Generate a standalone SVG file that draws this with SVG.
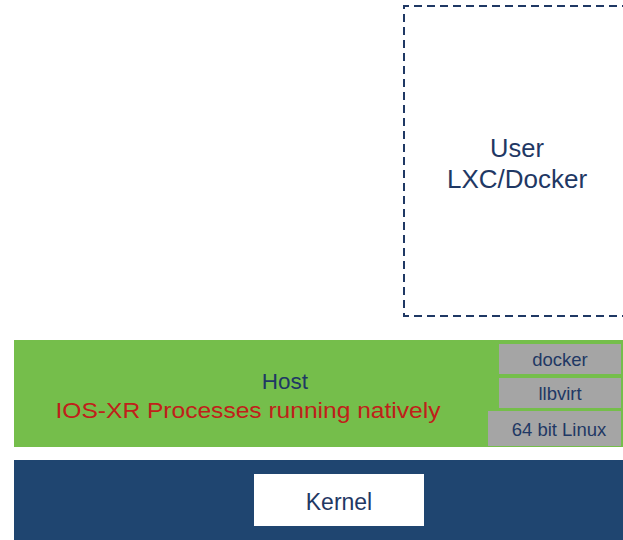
<svg xmlns="http://www.w3.org/2000/svg" width="623" height="540" viewBox="0 0 623 540">
<style>
.t{font-family:"Liberation Sans",Arial,sans-serif;text-anchor:middle}
.navy{fill:#1F3864}
.gray{fill:#A5A5A5}
.gl{font-size:18.5px;fill:#1F3864}
</style>
<rect width="623" height="540" fill="#FFFFFF"/>
<g id="user">
<path d="M630 6 H404 V316 H630" fill="none" stroke="#1F3864" stroke-width="2" stroke-dasharray="8,5"/>
<text class="t navy" x="517" y="157" font-size="25.5">User</text>
<text class="t navy" x="517" y="188" font-size="26">LXC/Docker</text>
</g>
<g id="host">
<rect x="14" y="340" width="609" height="107" fill="#75BE4B"/>
<text class="t navy" x="285" y="389" font-size="22.5">Host</text>
<text class="t" x="248" y="418" font-size="22.5" fill="#C0201A" textLength="385" lengthAdjust="spacingAndGlyphs">IOS-XR  Processes running natively</text>
</g>
<g id="docker">
<rect class="gray" x="499" y="344" width="122" height="30"/>
<text class="t gl" x="560" y="366">docker</text>
</g>
<g id="llbvirt">
<rect class="gray" x="499" y="378" width="122" height="30"/>
<text class="t gl" x="560" y="400">llbvirt</text>
</g>
<g id="linux">
<rect class="gray" x="488" y="411" width="133" height="35"/>
<text class="t gl" x="559" y="436">64 bit Linux</text>
</g>
<g id="kernel">
<rect x="14" y="460" width="609" height="80" fill="#1F4570"/>
<rect x="254" y="474" width="170" height="52" fill="#FFFFFF"/>
<text class="t navy" x="339" y="510" font-size="23">Kernel</text>
</g>
<g id="connectors"></g>
</svg>
